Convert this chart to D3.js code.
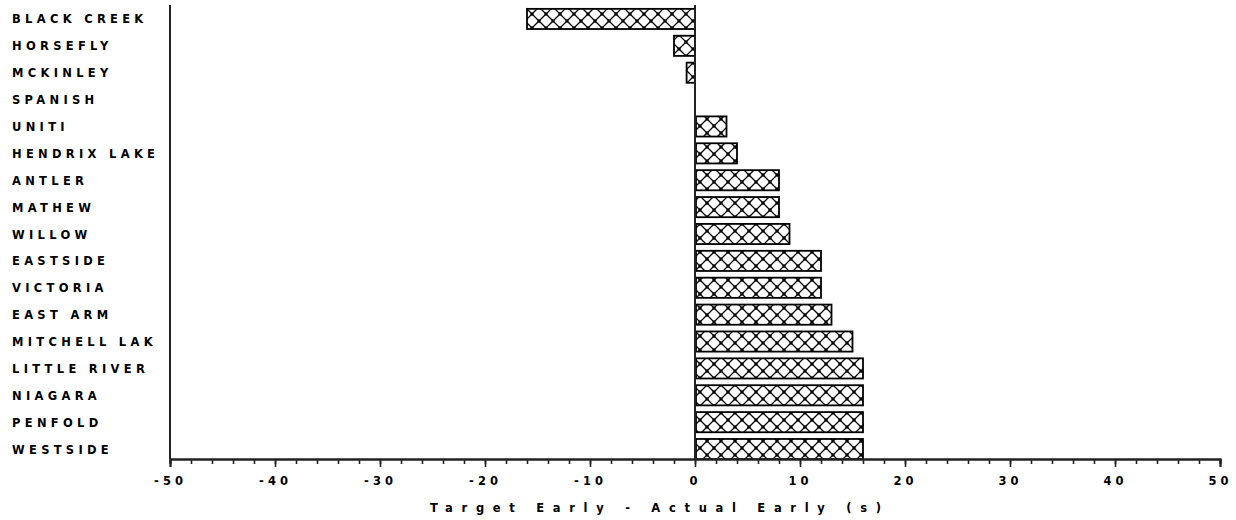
<!DOCTYPE html>
<html>
<head>
<meta charset="utf-8">
<script src="https://cdn.jsdelivr.net/npm/d3@7"></script>
<style>
  html, body { margin: 0; padding: 0; background: #fff; }
  svg { display: block; }
  text { font-family: "DejaVu Sans", sans-serif; font-weight: bold; fill: #000; }
</style>
</head>
<body>
<svg id="chart" width="1236" height="520"></svg>
<script>
const categories = ["BLACK CREEK","HORSEFLY","MCKINLEY","SPANISH","UNITI","HENDRIX LAKE","ANTLER","MATHEW","WILLOW","EASTSIDE","VICTORIA","EAST ARM","MITCHELL LAK","LITTLE RIVER","NIAGARA","PENFOLD","WESTSIDE"];
const values = [-16, -2, -0.8, 0, 3, 4, 8, 8, 9, 12, 12, 13, 15, 16, 16, 16, 16];
const majorTicks = [-50,-40,-30,-20,-10,0,10,20,30,40,50];
const minorTicks = d3.range(-50, 51, 2);
const axisTitle = "Target Early - Actual Early (s)";

const svg = d3.select("#chart");
const x = d3.scaleLinear().domain([-50, 50]).range([170, 1220]);
const y = d3.scaleBand().domain(categories).range([5.5, 462.5]).paddingInner(0.25).paddingOuter(0.125);
const axisY = 459;

// crosshatch pattern
const defs = svg.append("defs");
const pat = defs.append("pattern").attr("id", "hatch").attr("patternUnits", "userSpaceOnUse")
  .attr("width", 14).attr("height", 14).attr("x", 0).attr("y", 0);
pat.append("rect").attr("width", 14).attr("height", 14).attr("fill", "#fff");
pat.append("path").attr("d", "M0,0 L14,14 M14,0 L0,14")
  .attr("stroke", "#000").attr("stroke-width", 1.3).attr("fill", "none");
[[5.5,5.5],[-1.5,-1.5],[12.5,-1.5],[-1.5,12.5],[12.5,12.5]].forEach(p => {
  pat.append("rect").attr("x", p[0]).attr("y", p[1]).attr("width", 3).attr("height", 3).attr("fill", "#000");
});

// bars
const data = categories.map((c, i) => ({ c, v: values[i] }));
svg.append("g").selectAll("rect").data(data.filter(d => d.v !== 0)).join("rect")
  .attr("x", d => d.v < 0 ? x(d.v) : x(0) + 1)
  .attr("width", d => Math.abs(x(d.v) - x(0)) - (d.v < 0 ? 0 : 1))
  .attr("y", d => y(d.c))
  .attr("height", y.bandwidth())
  .attr("fill", "url(#hatch)")
  .attr("stroke", "#000").attr("stroke-width", 1.8);

// category labels
svg.append("g").selectAll("text").data(categories).join("text")
  .attr("x", 12).attr("y", d => y(d) + y.bandwidth() / 2 + 4.5)
  .attr("font-size", 11.5).attr("letter-spacing", "4.3px")
  .text(d => d);

// axes lines
svg.append("line").attr("x1", x(-50)).attr("x2", x(-50)).attr("y1", 5).attr("y2", axisY)
  .attr("stroke", "#222").attr("stroke-width", 2);
svg.append("line").attr("x1", x(0)).attr("x2", x(0)).attr("y1", 5).attr("y2", axisY)
  .attr("stroke", "#222").attr("stroke-width", 2);

const gMinor = svg.append("g").attr("transform", `translate(0,${axisY})`)
  .call(d3.axisBottom(x).tickValues(minorTicks).tickSize(5).tickFormat(""));
const gMajor = svg.append("g").attr("transform", `translate(0,${axisY})`)
  .call(d3.axisBottom(x).tickValues(majorTicks).tickSize(8).tickFormat(d => (d < 0 ? "-" + Math.abs(d) : String(d))));
[gMinor, gMajor].forEach(g => {
  g.select(".domain").attr("stroke", "#222").attr("stroke-width", 2);
  g.selectAll(".tick line").attr("stroke", "#222").attr("stroke-width", 1.6);
});
gMajor.selectAll(".tick text").attr("font-size", 11.5).attr("letter-spacing", "4px")
  .attr("y", 16).attr("dy", "0.9em").attr("font-family", "DejaVu Sans").attr("font-weight", "bold").attr("fill", "#000");

svg.append("text").attr("x", 430).attr("y", 512)
  .attr("font-size", 11.5).attr("letter-spacing", "8.7px").text(axisTitle);
</script>
</body>
</html>
